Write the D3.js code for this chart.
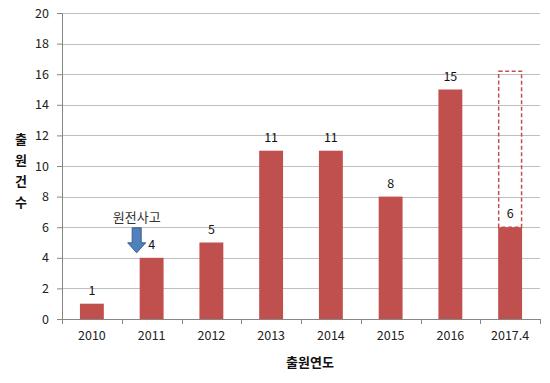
<!DOCTYPE html>
<html>
<head>
<meta charset="utf-8">
<script src="https://cdn.jsdelivr.net/npm/d3@7"></script>
<style>
  body { margin: 0; background: #fff; }
  svg text { font-family: "Noto Sans CJK KR", "Noto Sans", sans-serif; }
</style>
</head>
<body>
<div id="chart"></div>
<script>
/** Chart data. */
const YEARS = ["2010", "2011", "2012", "2013", "2014", "2015", "2016", "2017.4"];
const COUNTS = [1, 4, 5, 11, 11, 8, 15, 6];
// Projected total for the partial year (dashed outline).
const PROJECTED = {year: "2017.4", value: 16.2};
const Y_TICKS = [0, 2, 4, 6, 8, 10, 12, 14, 16, 18, 20];
const EVENT = {year: "2011", label: "원전사고"};
const X_TITLE = "출원연도";
const Y_TITLE = "출원건수";

const WIDTH = 550;
const HEIGHT = 383;
const MARGIN = {left: 62, right: 10, top: 13, bottom: 64};
const VIEW_WIDTH = WIDTH - MARGIN.left - MARGIN.right;
const VIEW_HEIGHT = HEIGHT - MARGIN.top - MARGIN.bottom;
const BAR_COLOR = "#c0504d";

const x = d3.scaleBand()
    .domain(YEARS)
    .range([0, VIEW_WIDTH])
    .paddingInner(0.6)
    .paddingOuter(0.3);
const y = d3.scaleLinear()
    .domain([0, 20])
    .range([VIEW_HEIGHT, 0]);

const svg = d3.select("#chart").append("svg")
    .attr("width", WIDTH)
    .attr("height", HEIGHT);

const g = svg.append("g")
    .attr("transform", `translate(${MARGIN.left},${MARGIN.top})`);

// Gridlines and y axis.
const yAxis = d3.axisLeft(y)
    .tickValues(Y_TICKS)
    .tickSizeInner(5)
    .tickSizeOuter(0)
    .tickPadding(8);
g.append("g")
    .attr("class", "grid")
    .selectAll("line")
    .data(Y_TICKS)
    .join("line")
    .attr("x1", 0)
    .attr("x2", VIEW_WIDTH)
    .attr("y1", d => Math.round(y(d)) + 0.5)
    .attr("y2", d => Math.round(y(d)) + 0.5)
    .attr("stroke", "#bfbfbf")
    .attr("stroke-width", 1);

const yG = g.append("g").call(yAxis);
yG.select(".domain").attr("stroke", "#868686");
yG.selectAll(".tick line").attr("stroke", "#868686");
yG.selectAll(".tick text")
    .attr("font-size", 12.5)
    .attr("fill", "#222");

// X axis with ticks between categories.
const xAxis = d3.axisBottom(x)
    .tickSize(0)
    .tickPadding(12);
const xG = g.append("g")
    .attr("transform", `translate(0,${VIEW_HEIGHT})`)
    .call(xAxis);
xG.select(".domain").attr("stroke", "#868686");
xG.selectAll(".tick text")
    .attr("font-size", 12.5)
    .attr("fill", "#222");
const step = x.step();
xG.selectAll("line.sep")
    .data(d3.range(YEARS.length + 1))
    .join("line")
    .attr("class", "sep")
    .attr("x1", i => Math.round(i * step) + 0.5)
    .attr("x2", i => Math.round(i * step) + 0.5)
    .attr("y1", 0)
    .attr("y2", 5)
    .attr("stroke", "#868686");

// Projected outline.
g.append("rect")
    .attr("x", x(PROJECTED.year) + 0.5)
    .attr("y", y(PROJECTED.value))
    .attr("width", x.bandwidth() - 1)
    .attr("height", y(COUNTS[YEARS.indexOf(PROJECTED.year)]) - y(PROJECTED.value))
    .attr("fill", "none")
    .attr("stroke", BAR_COLOR)
    .attr("stroke-width", 1.5)
    .attr("stroke-dasharray", "4,2.5");

// Bars.
const data = YEARS.map((year, i) => ({year, value: COUNTS[i]}));
g.selectAll("rect.bar")
    .data(data)
    .join("rect")
    .attr("class", "bar")
    .attr("x", d => x(d.year))
    .attr("y", d => y(d.value))
    .attr("width", x.bandwidth())
    .attr("height", d => y(0) - y(d.value))
    .attr("fill", BAR_COLOR);

// Value labels.
g.selectAll("text.value")
    .data(data)
    .join("text")
    .attr("class", "value")
    .attr("x", d => x(d.year) + x.bandwidth() / 2)
    .attr("y", d => y(d.value) - 9)
    .attr("text-anchor", "middle")
    .attr("font-size", 12.5)
    .attr("fill", "#111")
    .text(d => d.value);

// Event arrow and label.
const ex = x(EVENT.year) - 3;
const ey = y(COUNTS[YEARS.indexOf(EVENT.year)]);
g.append("path")
    .attr("d", `M${ex - 4.5},${ey - 30} h9 v15 h4.5 l-9,10 l-9,-10 h4.5 z`)
    .attr("fill", "#4f81bd")
    .attr("stroke", "#385d8a")
    .attr("stroke-width", 1);
g.append("text")
    .attr("x", ex)
    .attr("y", ey - 36)
    .attr("text-anchor", "middle")
    .attr("font-size", 13)
    .attr("fill", "#333")
    .text(EVENT.label);

// Axis titles.
svg.append("text")
    .attr("x", MARGIN.left + VIEW_WIDTH / 2 + 9)
    .attr("y", 367)
    .attr("text-anchor", "middle")
    .attr("font-size", 13)
    .attr("font-weight", "bold")
    .attr("fill", "#111")
    .text(X_TITLE);

svg.append("g")
    .selectAll("text")
    .data(Array.from(Y_TITLE))
    .join("text")
    .attr("x", 21)
    .attr("y", (d, i) => 144 + i * 21)
    .attr("text-anchor", "middle")
    .attr("font-size", 13)
    .attr("font-weight", "bold")
    .attr("fill", "#111")
    .text(d => d);
</script>
</body>
</html>
